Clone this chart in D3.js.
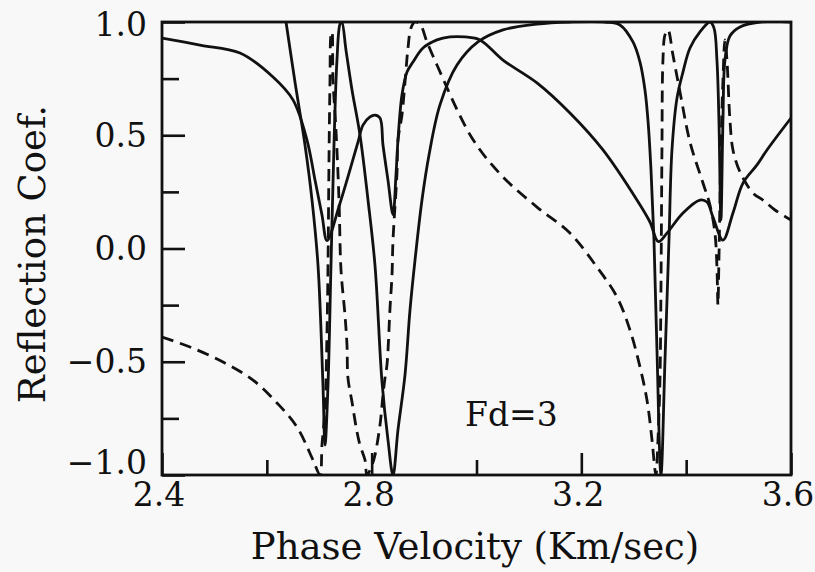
<!DOCTYPE html>
<html><head><meta charset="utf-8">
<script src="https://cdn.jsdelivr.net/npm/d3@7"></script>
<style>
html,body{margin:0;padding:0;background:#f8f8f8;}
svg{display:block;}
text{font-family:"DejaVu Serif",serif;fill:#111;}
</style></head>
<body>
<svg id="chart" width="815" height="572"></svg>
<script>
// ---- data ----
const xTickValues = [2.4, 2.6, 2.8, 3.0, 3.2, 3.4, 3.6];
const xTickLabels = [2.4, 2.8, 3.2, 3.6];
const yTickValues = [-1, -0.75, -0.5, -0.25, 0, 0.25, 0.5, 0.75, 1];
const yTickLabels = [-1, -0.5, 0, 0.5, 1];

// solid curve A
const solidA_v = [2.400,2.4725,2.5488,2.6118,2.6499,2.6766,2.6919,2.7052,2.7148,2.7396,2.7739,2.7834,2.7968,2.8063,2.8159,2.8216,2.8311,2.8407,2.8464,2.8502,2.8578,2.8674,2.8788,2.8979,2.9246,2.9494,2.9780,3.0066,3.0505,3.1154,3.1783,3.2413,3.3061,3.3309,3.3470,3.3634,3.3939,3.4263,3.4397,3.4511,3.4702,3.4893,3.5084,3.5351,3.5542,3.600];
const solidA_r = [0.929,0.898,0.863,0.757,0.656,0.479,0.302,0.148,0.035,0.200,0.470,0.545,0.581,0.589,0.576,0.457,0.302,0.150,0.325,0.479,0.678,0.779,0.823,0.885,0.921,0.934,0.934,0.921,0.832,0.731,0.598,0.435,0.214,0.117,0.030,0.068,0.157,0.214,0.205,0.139,0.037,0.157,0.289,0.369,0.435,0.576];

// solid curve B
const solidB_v = [2.6366,2.6537,2.6728,2.6862,2.6976,2.7071,2.7110,2.7167,2.7224,2.7281,2.7338,2.7396,2.7430,2.7510,2.7625,2.7777,2.7930,2.8063,2.8197,2.8311,2.8407,2.8502,2.8636,2.8731,2.8827,2.8960,2.9094,2.9303,2.9628,3.0028,3.0505,3.1154,3.1783,3.2451,3.2737,3.2985,3.3119,3.3214,3.3271,3.3329,3.3386,3.3443,3.3519,3.3596,3.3672,3.3729,3.3825,3.3939,3.4073,3.4263,3.4454,3.4530,3.4587,3.4625,3.4663,3.4702,3.4740,3.4835,3.5027,3.5408,3.600];
const solidB_r = [1.000,0.735,0.457,0.214,-0.073,-0.603,-0.868,-0.603,-0.073,0.457,0.832,0.991,1.000,0.876,0.700,0.501,0.214,-0.073,-0.589,-0.845,-1.000,-0.801,-0.558,-0.272,-0.051,0.214,0.413,0.634,0.810,0.912,0.965,0.991,1.000,1.000,0.987,0.912,0.823,0.700,0.567,0.347,0.037,-0.448,-1.000,-0.492,0.037,0.435,0.664,0.779,0.885,0.956,1.000,0.974,0.832,0.567,0.126,0.567,0.832,0.938,0.978,1.000,1.000];

// dashed curve
const dashed_v = [2.400,2.4534,2.5164,2.5736,2.6194,2.6575,2.6881,2.7014,2.7052,2.7110,2.7148,2.7167,2.7186,2.7205,2.7224,2.7243,2.7262,2.7319,2.7377,2.7415,2.7491,2.7529,2.7548,2.7625,2.7720,2.7777,2.7873,2.7911,2.8006,2.8063,2.8159,2.8216,2.8254,2.8292,2.8350,2.8388,2.8407,2.8483,2.8502,2.8578,2.8636,2.8693,2.8750,2.8827,2.8922,2.9055,2.9246,2.9914,3.0505,3.1154,3.1783,3.2298,3.2680,3.2928,3.3119,3.3252,3.3348,3.3405,3.3424,3.3462,3.3500,3.3519,3.3538,3.3557,3.3596,3.3653,3.3748,3.3882,3.4073,3.4321,3.4454,3.4549,3.4587,3.4606,3.4625,3.4663,3.4702,3.4740,3.4778,3.4835,3.4893,3.5027,3.5275,3.5465,3.5694,3.600];
const dashed_r = [-0.391,-0.435,-0.501,-0.581,-0.682,-0.788,-0.934,-1.000,-0.868,-0.704,-0.369,-0.073,0.391,0.744,0.943,0.956,0.744,0.523,0.214,-0.095,-0.294,-0.426,-0.572,-0.678,-0.810,-0.868,-0.934,-1.000,-0.956,-0.912,-0.779,-0.647,-0.572,-0.514,-0.263,-0.117,0.037,0.333,0.479,0.589,0.735,0.885,0.974,1.000,0.991,0.912,0.810,0.488,0.316,0.183,0.068,-0.082,-0.214,-0.360,-0.523,-0.669,-0.845,-0.978,-1.000,-0.845,-0.581,-0.183,0.435,0.832,0.943,0.965,0.854,0.691,0.470,0.289,0.192,0.068,-0.082,-0.249,-0.051,0.435,0.744,0.921,0.832,0.567,0.435,0.338,0.245,0.214,0.170,0.126];

const annotation = "Fd=3";
const xTitle = "Phase Velocity (Km/sec)";
const yTitle = "Reflection Coef.";

// ---- layout ----
const svg = d3.select("#chart");
const L = 162, R = 791, T = 22, B = 475;
const x = d3.scaleLinear().domain([2.4, 3.6]).range([L, R]);
const y = d3.scaleLinear().domain([-1, 1]).range([B, T]);

svg.append("defs").append("clipPath").attr("id","clip")
  .append("rect").attr("x", L).attr("y", T - 1).attr("width", R - L).attr("height", B - T + 2);

const line = d3.line().x(d => x(d[0])).y(d => y(d[1])).curve(d3.curveCatmullRom.alpha(0.5));
const zip = (a, b) => a.map((v, i) => [v, b[i]]);

const g = svg.append("g").attr("clip-path", "url(#clip)");
g.append("path").datum(zip(solidA_v, solidA_r)).attr("d", line)
  .attr("fill","none").attr("stroke","#111").attr("stroke-width",2.8).attr("stroke-linejoin","round");
g.append("path").datum(zip(solidB_v, solidB_r)).attr("d", line)
  .attr("fill","none").attr("stroke","#111").attr("stroke-width",2.8).attr("stroke-linejoin","round");
g.append("path").datum(zip(dashed_v, dashed_r)).attr("d", line)
  .attr("fill","none").attr("stroke","#111").attr("stroke-width",2.8).attr("stroke-dasharray","12,7");

// axes (ticks inward)
const yAxis = d3.axisLeft(y).tickValues(yTickValues).tickFormat("")
  .tickSizeInner(-17).tickSizeOuter(0);
const gy = svg.append("g").attr("transform", `translate(${L},0)`).call(yAxis);
gy.selectAll(".tick line").attr("x2", d => yTickLabels.includes(d) ? 23 : 17);
const xAxis = d3.axisBottom(x).tickValues(xTickValues).tickFormat("")
  .tickSizeInner(-15).tickSizeOuter(0);
const gx = svg.append("g").attr("transform", `translate(0,${B})`).call(xAxis);
gx.selectAll(".tick line").attr("y2", d => xTickLabels.includes(d) ? -22 : -15);
svg.selectAll(".domain").remove();
svg.selectAll(".tick line").attr("stroke","#111").attr("stroke-width",2.6);

// frame
svg.append("rect").attr("x", L).attr("y", T).attr("width", R - L).attr("height", B - T)
  .attr("fill","none").attr("stroke","#111").attr("stroke-width",2.8);

// tick labels
const fmt = d => (d < 0 ? "\u2212" : "") + Math.abs(d).toFixed(1);
svg.append("g").selectAll("text").data(yTickLabels).join("text")
  .attr("x", 147).attr("y", d => y(d) + (d === 1 ? 2 : d === -1 ? -13 : 0))
  .attr("text-anchor","end").attr("dominant-baseline","central")
  .attr("font-size", 33).text(fmt);
svg.append("g").selectAll("text").data(xTickLabels).join("text")
  .attr("x", d => x(d) - 3).attr("y", 506)
  .attr("text-anchor","middle").attr("font-size", 33).text(fmt);

// titles
svg.append("text").attr("x", 475).attr("y", 559).attr("text-anchor","middle")
  .attr("font-size", 37).text(xTitle);
svg.append("text").attr("transform", "translate(45,254) rotate(-90)")
  .attr("text-anchor","middle").attr("font-size", 37).text(yTitle);

// annotation
svg.append("text").attr("x", 465).attr("y", 426).attr("font-size", 33).text(annotation);
</script>
</body></html>
